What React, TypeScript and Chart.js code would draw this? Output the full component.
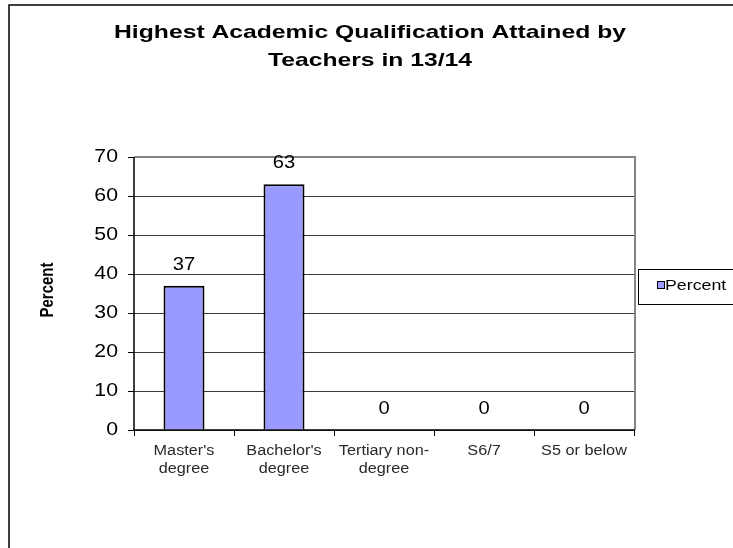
import React, { useEffect, useRef } from "react";
import { Chart, registerables } from "chart.js";

Chart.register(...registerables);

const titleLines = ["Highest Academic Qualification Attained by", "Teachers in 13/14"];
const categories: (string | string[])[] = [
  ["Master's", "degree"],
  ["Bachelor's", "degree"],
  ["Tertiary non-", "degree"],
  "S6/7",
  "S5 or below",
];
const seriesName = "Percent";
const percentValues = [37, 63, 0, 0, 0];
const yAxisTitle = "Percent";
const yMin = 0;
const yMax = 70;
const yStep = 10;

const FONT = "'Liberation Sans', Arial, sans-serif";

function stretchText(
  ctx: CanvasRenderingContext2D,
  text: string,
  x: number,
  y: number,
  sx: number,
  align: CanvasTextAlign
) {
  ctx.save();
  ctx.translate(x, y);
  ctx.scale(sx, 1);
  ctx.textAlign = align;
  ctx.textBaseline = "middle";
  ctx.fillText(text, 0, 0);
  ctx.restore();
}

const decorPlugin = {
  id: "decor",
  beforeDraw(chart: any) {
    const ctx = chart.ctx;
    ctx.save();
    ctx.fillStyle = "#ffffff";
    ctx.fillRect(0, 0, chart.width, chart.height);
    ctx.strokeStyle = "#000000";
    ctx.lineWidth = 1.5;
    ctx.beginPath();
    ctx.moveTo(9, chart.height + 5);
    ctx.lineTo(9, 5);
    ctx.lineTo(chart.width + 5, 5);
    ctx.stroke();
    ctx.restore();
  },
  afterDraw(chart: any) {
    const ctx = chart.ctx;
    const a = chart.chartArea;
    ctx.save();
    // plot area border top/right
    ctx.strokeStyle = "#858585";
    ctx.lineWidth = 2;
    ctx.beginPath();
    ctx.moveTo(a.left, a.top);
    ctx.lineTo(a.right + 1, a.top);
    ctx.lineTo(a.right + 1, a.bottom);
    ctx.stroke();
    // axes lines
    ctx.strokeStyle = "#000000";
    ctx.lineWidth = 1.5;
    ctx.beginPath();
    ctx.moveTo(a.left, a.top);
    ctx.lineTo(a.left, a.bottom);
    ctx.lineTo(a.right + 1, a.bottom);
    ctx.stroke();

    // title
    ctx.fillStyle = "#000000";
    ctx.font = `bold 19px ${FONT}`;
    titleLines.forEach((t, i) => stretchText(ctx, t, 370, 33 + i * 28, 1.3, "center"));

    // y axis title
    ctx.save();
    ctx.translate(48, 290);
    ctx.rotate(-Math.PI / 2);
    ctx.scale(1, 1.2);
    ctx.font = `bold 15px ${FONT}`;
    ctx.textAlign = "center";
    ctx.textBaseline = "middle";
    ctx.fillText(yAxisTitle, 0, 0);
    ctx.restore();

    // y tick labels
    const ys = chart.scales.y;
    ctx.font = `18px ${FONT}`;
    ctx.fillStyle = "#000000";
    ys.ticks.forEach((t: any) => {
      stretchText(ctx, String(t.value), 118, ys.getPixelForValue(t.value), 1.18, "right");
    });

    // x tick labels
    const xs = chart.scales.x;
    ctx.font = `14px ${FONT}`;
    ctx.fillStyle = "#2a2a2a";
    categories.forEach((c, i) => {
      const lines = Array.isArray(c) ? c : [c];
      const x = xs.getPixelForValue(i);
      lines.forEach((ln, j) => stretchText(ctx, ln, x, a.bottom + 21 + j * 18, 1.16, "center"));
    });

    // legend
    ctx.strokeStyle = "#000000";
    ctx.lineWidth = 1;
    ctx.strokeRect(638.5, 269.5, 120, 35);
    ctx.fillStyle = "#9999FF";
    ctx.fillRect(657.5, 281.5, 7, 7);
    ctx.strokeRect(657.5, 281.5, 7, 7);
    ctx.fillStyle = "#000000";
    ctx.font = `14px ${FONT}`;
    stretchText(ctx, seriesName, 665, 286, 1.27, "left");

    // data labels
    const meta = chart.getDatasetMeta(0);
    ctx.font = `18px ${FONT}`;
    meta.data.forEach((el: any, i: number) => {
      const v = chart.data.datasets[0].data[i];
      stretchText(ctx, String(v), el.x, el.y - 21, 1.12, "center");
    });
    ctx.restore();
  },
};

export default function App() {
  const ref = useRef<HTMLCanvasElement | null>(null);
  useEffect(() => {
    document.body.style.margin = "0";
    if (!ref.current) return;
    const chart = new Chart(ref.current, {
      type: "bar",
      data: {
        labels: categories,
        datasets: [
          {
            label: seriesName,
            data: percentValues,
            backgroundColor: "#9999FF",
            borderColor: "#000000",
            borderWidth: 2,
            borderSkipped: "bottom",
            barPercentage: 0.41,
            categoryPercentage: 1,
          },
        ],
      },
      options: {
        responsive: false,
        animation: false,
        devicePixelRatio: 1,
        layout: { padding: { left: 0, right: 99, top: 157, bottom: 0 } },
        plugins: {
          legend: { display: false },
          title: { display: false },
          tooltip: { enabled: false },
        },
        scales: {
          x: {
            afterFit(scale: any) {
              scale.height = 118;
            },
            grid: {
              drawOnChartArea: false,
              drawTicks: true,
              tickLength: 6,
              tickColor: "#000000",
              offset: true,
            },
            border: { display: false },
            ticks: {
              autoSkip: false,
              maxRotation: 0,
              minRotation: 0,
              color: "rgba(0,0,0,0)",
              font: { family: FONT, size: 13 },
            },
          },
          y: {
            min: yMin,
            max: yMax,
            afterFit(scale: any) {
              scale.width = 134;
            },
            grid: {
              color: "#3a3a3a",
              lineWidth: 1,
              tickLength: 6,
              tickColor: "#000000",
            },
            border: { display: false },
            ticks: {
              stepSize: yStep,
              color: "rgba(0,0,0,0)",
              font: { family: FONT, size: 16 },
            },
          },
        },
      },
      plugins: [decorPlugin],
    });
    return () => chart.destroy();
  }, []);
  return (
    <div style={{ width: 733, height: 548 }}>
      <canvas ref={ref} width={733} height={548} style={{ display: "block" }} />
    </div>
  );
}
